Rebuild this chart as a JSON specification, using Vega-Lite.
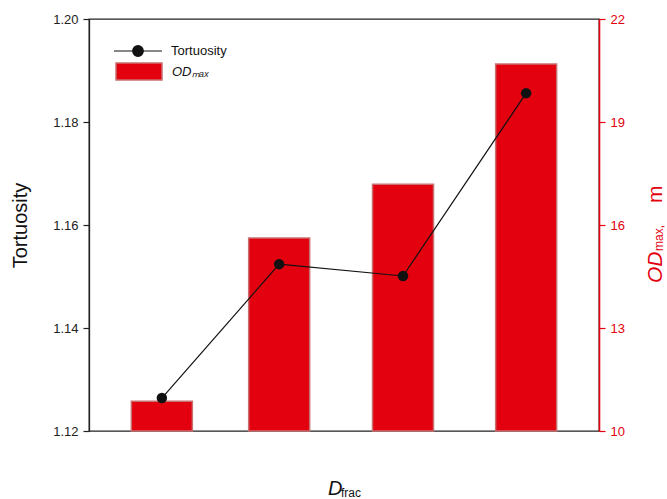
{
  "$schema": "https://vega.github.io/schema/vega-lite/v6.json",
  "width": 510,
  "height": 412,
  "autosize": "none",
  "padding": {"left": 89, "top": 19, "right": 68, "bottom": 68},
  "background": "white",
  "config": {
    "font": "Liberation Sans",
    "view": {"stroke": "#222", "strokeWidth": 1.3},
    "axis": {"grid": false, "labelFont": "Liberation Sans", "titleFont": "Liberation Sans", "labelFontSize": 13, "tickSize": 6, "labelPadding": 5, "domainWidth": 1.3, "tickWidth": 1.2},
    "legend": {"padding": 0, "labelFont": "Liberation Sans", "labelFontSize": 13, "labelColor": "#111"}
  },
  "data": {
    "values": [
      {"D": 0.05, "T": 1.1264, "OD": 10.87},
      {"D": 0.0661, "T": 1.1524, "OD": 15.62},
      {"D": 0.0831, "T": 1.1501, "OD": 17.19},
      {"D": 0.1, "T": 1.1856, "OD": 20.69}
    ]
  },
  "layer": [
    {
      "mark": {"type": "bar", "width": 61, "stroke": "#c87070", "strokeWidth": 1.5},
      "encoding": {
        "x": {"field": "D", "type": "quantitative", "scale": {"domain": [0.04, 0.11], "nice": false, "padding": 0},
              "axis": {"values": [0.04, 0.05, 0.06, 0.07, 0.08, 0.09, 0.1, 0.11], "format": ".2f", "title": null, "labelColor": "#222", "domainColor": "#222", "tickColor": "#222", "labelPadding": 6}},
        "y": {"field": "OD", "type": "quantitative", "scale": {"domain": [10, 22], "nice": false, "zero": false},
              "axis": {"orient": "right", "values": [10, 13, 16, 19, 22], "title": null, "labelColor": "#e3000f", "domainColor": "#e3000f", "tickColor": "#e3000f", "domainWidth": 1.6}},
        "y2": {"datum": 10},
        "fill": {"datum": "ODₘₐₓ", "scale": {"range": ["#e3000f"]},
                 "legend": {"title": null, "orient": "none", "legendX": 26, "legendY": 28.5, "symbolType": "M-1,-0.37H1V0.37H-1Z", "symbolSize": 2116, "symbolStrokeColor": "#c87070", "symbolStrokeWidth": 1.5, "symbolFillColor": "#e3000f", "labelOffset": 9, "labelFontStyle": "italic"}}
      }
    },
    {
      "layer": [
        {
          "mark": {"type": "line", "strokeWidth": 1.2},
          "encoding": {
            "x": {"field": "D", "type": "quantitative", "axis": null},
            "y": {"field": "T", "type": "quantitative", "scale": {"domain": [1.12, 1.2], "nice": false, "zero": false},
                  "axis": {"orient": "left", "values": [1.12, 1.14, 1.16, 1.18, 1.2], "format": ".2f", "title": "Tortuosity", "titleFontSize": 20, "titleFontWeight": "normal", "titleColor": "#111", "titlePadding": 22, "labelColor": "#222", "domainColor": "#222", "tickColor": "#222"}},
            "stroke": {"datum": "Tortuosity", "scale": {"range": ["#111111"]},
                       "legend": {"title": null, "orient": "none", "legendX": 24, "legendY": 7, "symbolType": "M-1,0H-0.2 M0.2,0H1 M-0.22,0A0.22,0.22 0 1 0 0.22,0A0.22,0.22 0 1 0 -0.22,0Z", "symbolSize": 2304, "symbolStrokeColor": "#111", "symbolFillColor": "#111", "symbolStrokeWidth": 1.2, "labelOffset": 8}}
          }
        },
        {
          "mark": {"type": "point", "filled": true, "color": "#111111", "size": 110, "opacity": 1},
          "encoding": {
            "x": {"field": "D", "type": "quantitative", "axis": null},
            "y": {"field": "T", "type": "quantitative"}
          }
        },
        {
          "data": {"values": [{}]},
          "mark": {"type": "text", "text": "D", "font": "Liberation Sans", "fontSize": 20, "fontStyle": "italic", "align": "left", "baseline": "alphabetic", "color": "#111"},
          "encoding": {
            "x": {"datum": 0.0728, "type": "quantitative", "axis": null},
            "y": {"datum": 1.10757, "type": "quantitative"}
          }
        },
        {
          "data": {"values": [{}]},
          "mark": {"type": "text", "text": "frac", "font": "Liberation Sans", "fontSize": 12, "align": "left", "baseline": "alphabetic", "color": "#111"},
          "encoding": {
            "x": {"datum": 0.07459, "type": "quantitative", "axis": null},
            "y": {"datum": 1.10718, "type": "quantitative"}
          }
        },
        {
          "data": {"values": [{}]},
          "mark": {"type": "text", "text": "OD", "font": "Liberation Sans", "fontSize": 21, "fontStyle": "italic", "align": "left", "baseline": "alphabetic", "angle": 270, "color": "#e3000f"},
          "encoding": {
            "x": {"datum": 0.118646, "type": "quantitative", "axis": null},
            "y": {"datum": 1.14874, "type": "quantitative"}
          }
        },
        {
          "data": {"values": [{}]},
          "mark": {"type": "text", "text": "max,", "font": "Liberation Sans", "fontSize": 12, "align": "left", "baseline": "alphabetic", "angle": 270, "color": "#e3000f"},
          "encoding": {
            "x": {"datum": 0.11878, "type": "quantitative", "axis": null},
            "y": {"datum": 1.15495, "type": "quantitative"}
          }
        },
        {
          "data": {"values": [{}]},
          "mark": {"type": "text", "text": "m", "font": "Liberation Sans", "fontSize": 21, "align": "left", "baseline": "alphabetic", "angle": 270, "color": "#e3000f"},
          "encoding": {
            "x": {"datum": 0.118646, "type": "quantitative", "axis": null},
            "y": {"datum": 1.16427, "type": "quantitative"}
          }
        }
      ]
    }
  ],
  "resolve": {"scale": {"y": "independent"}}
}
